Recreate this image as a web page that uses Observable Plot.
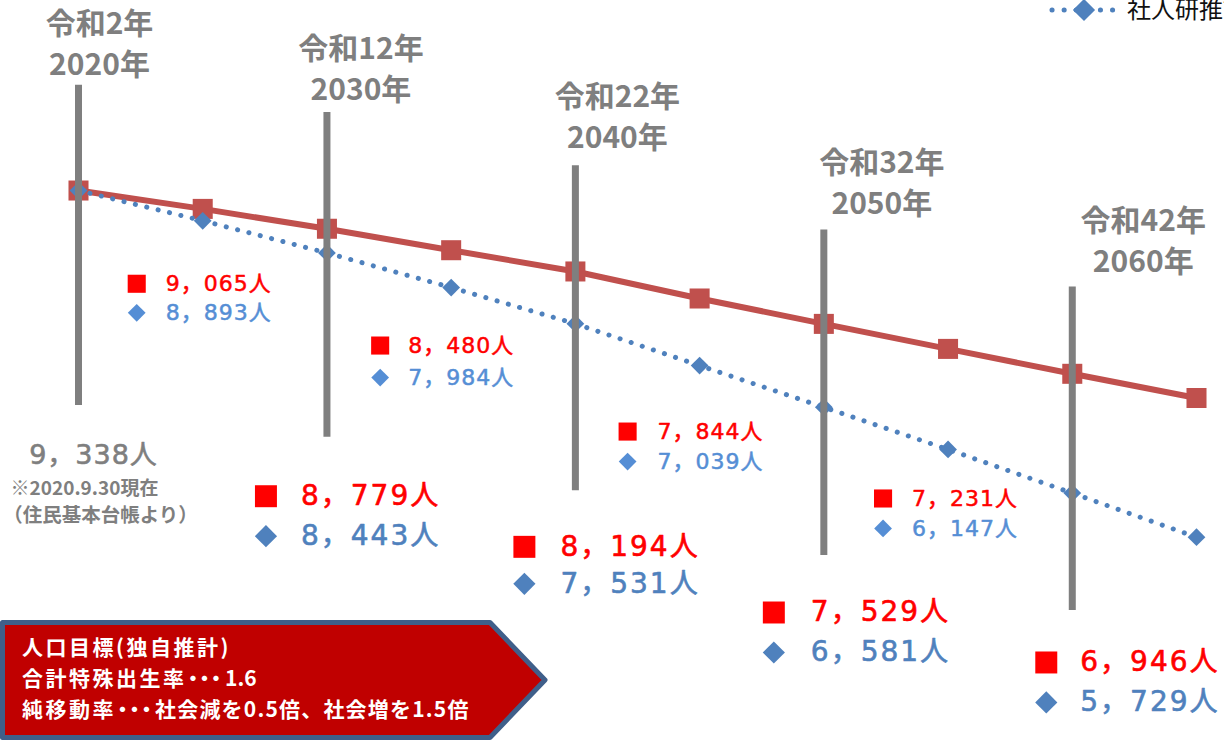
<!DOCTYPE html>
<html lang="ja">
<head>
<meta charset="utf-8">
<script src="https://cdn.jsdelivr.net/npm/d3@7"></script>
<script src="https://cdn.jsdelivr.net/npm/@observablehq/plot@0.6"></script>
<style>
  html, body { margin: 0; padding: 0; background: #fff; }
  #wrap { position: relative; width: 1224px; height: 740px; overflow: hidden; font-family: "Noto Sans CJK JP", "Noto Sans", sans-serif; }
  #wrap svg.overlay { position: absolute; left: 0; top: 0; }
</style>
</head>
<body>
<div id="wrap"></div>
<script>
// ---- data ----
const years = [2020, 2025, 2030, 2035, 2040, 2045, 2050, 2055, 2060, 2065];
const target = [9338, 9065, 8779, 8480, 8194, 7844, 7529, 7231, 6946, 6680]; // 人口目標（独自推計）
const ipss   = [9338, 8893, 8443, 7984, 7531, 7039, 6581, 6147, 5729, 5335]; // 社人研推計
const eraYears  = [2020, 2030, 2040, 2050, 2060];
const eraLabels = ["令和2年", "令和12年", "令和22年", "令和32年", "令和42年"];
const eraYearLabels = ["2020年", "2030年", "2040年", "2050年", "2060年"];
const barTop    = [11070, 10590, 9720, 8760, 7990];
const barBottom = [6600, 6270, 5750, 5180, 4740];
const bigYears   = [2030, 2040, 2050, 2060];
const smallYears = [2025, 2035, 2045, 2055];
const legendLabel = "社人研推計";
const baseNote = ["※2020.9.30現在", "（住民基本台帳より）"];
const boxLines = ["人口目標(独自推計)", "合計特殊出生率・・・1.6", "純移動率・・・社会減を0.5倍、社会増を1.5倍"];

// ---- layout (pixel offsets for annotations) ----
const eraDx = [21, 34, 42, 58, 71];
const eraDy = [2, 0, -5, -4, -3];
const bigLayout = [
  {m: -61, t: -26, r: 59, b: 99},
  {m: -51, t: -15, r: 56, b: 93},
  {m: -50, t: -13, r: 57, b: 97},
  {m: -26, t: 8,  r: 52, b: 92}
];
const smallLayout = [
  {m: -66, t: -37, r: 63, b: 92},
  {m: -71, t: -43, r: 58, b: 90},
  {m: -72, t: -42, r: 66, b: 96},
  {m: -65, t: -36, r: 49, b: 79}
];

const RED_LINE = "#c0504d", BLUE_LINE = "#4f81bd", GRAY = "#7f7f7f";
const RED_TXT = "#ff0000", BLUE_BIG = "#4f81bd", BLUE_SMALL = "#558ed5";
const FONT = "Noto Sans CJK JP";
const NUMFONT = "'DejaVu Sans', 'Noto Sans CJK JP'";

const rows = years.map((y, i) => ({year: y, target: target[i], ipss: ipss[i]}));
const bars = eraYears.map((y, i) => ({year: y, top: barTop[i], bottom: barBottom[i], era: eraLabels[i], ylab: eraYearLabels[i]}));
const fmt = v => d3.format(",")(v).replace(",", "，") + "人";
const byYear = y => rows.find(r => r.year === y);

const marks = [
  Plot.line(rows, {x: "year", y: "target", stroke: RED_LINE, strokeWidth: 6}),
  Plot.dot(rows, {x: "year", y: "target", symbol: "square", r: 11.3, fill: RED_LINE}),
  Plot.line(rows, {x: "year", y: "ipss", stroke: BLUE_LINE, strokeWidth: 5, strokeDasharray: "0.1 11.6", strokeLinecap: "round"}),
  Plot.dot(rows, {x: "year", y: "ipss", symbol: "diamond2", r: 8, fill: BLUE_LINE}),
  Plot.ruleX(bars, {x: "year", y1: "bottom", y2: "top", stroke: GRAY, strokeWidth: 7})
];

// era labels
bars.forEach((b, i) => {
  marks.push(Plot.text([b], {x: "year", y: "top", text: "era", dx: eraDx[i], dy: -63 + eraDy[i], fill: GRAY, fontSize: 30, fontWeight: "bold", fontFamily: FONT}));
  marks.push(Plot.text([b], {x: "year", y: "top", text: "ylab", dx: eraDx[i], dy: -22 + eraDy[i], fill: GRAY, fontSize: 30, fontWeight: "bold", fontFamily: FONT}));
});

// base year label
const b0 = [bars[0]];
marks.push(Plot.text(b0, {x: "year", y: "bottom", text: () => fmt(target[0]), dx: 15, dy: 50, fill: GRAY, stroke: GRAY, strokeWidth: 0.6, fontSize: 27, fontFamily: NUMFONT, ariaDescription: "base"}));
marks.push(Plot.text(b0, {x: "year", y: "bottom", text: () => baseNote[0], dx: 6, dy: 83, fill: GRAY, fontSize: 19, fontWeight: "bold", fontFamily: FONT}));
marks.push(Plot.text(b0, {x: "year", y: "bottom", text: () => baseNote[1], dx: 22, dy: 110, fill: GRAY, fontSize: 19.5, fontWeight: "bold", fontFamily: FONT}));

// big labels (decade years) anchored at bar bottoms
bigYears.forEach((yr, i) => {
  const L = bigLayout[i];
  const d = [{...byYear(yr), bottom: bars.find(b => b.year === yr).bottom}];
  marks.push(Plot.dot(d, {x: "year", y: "bottom", dx: L.m, dy: L.r, symbol: "square", r: 12.4, fill: RED_TXT}));
  marks.push(Plot.dot(d, {x: "year", y: "bottom", dx: L.m, dy: L.b, symbol: "diamond2", r: 10, fill: BLUE_BIG}));
  marks.push(Plot.text(d, {x: "year", y: "bottom", text: r => fmt(r.target), dx: L.t, dy: L.r, textAnchor: "start", fill: RED_TXT, stroke: RED_TXT, strokeWidth: 0.6, fontSize: 28, fontFamily: NUMFONT, ariaDescription: "big"}));
  marks.push(Plot.text(d, {x: "year", y: "bottom", text: r => fmt(r.ipss), dx: L.t, dy: L.b, textAnchor: "start", fill: BLUE_BIG, stroke: BLUE_BIG, strokeWidth: 0.6, fontSize: 28, fontFamily: NUMFONT, ariaDescription: "big"}));
});

// small labels (mid years) anchored at the projection point
smallYears.forEach((yr, i) => {
  const L = smallLayout[i];
  const d = [byYear(yr)];
  marks.push(Plot.dot(d, {x: "year", y: "ipss", dx: L.m, dy: L.r, symbol: "square", r: 10.2, fill: RED_TXT}));
  marks.push(Plot.dot(d, {x: "year", y: "ipss", dx: L.m, dy: L.b, symbol: "diamond2", r: 8, fill: BLUE_SMALL}));
  marks.push(Plot.text(d, {x: "year", y: "ipss", text: r => fmt(r.target), dx: L.t, dy: L.r, textAnchor: "start", fill: RED_TXT, stroke: RED_TXT, strokeWidth: 0.5, fontSize: 22, fontFamily: NUMFONT, ariaDescription: "small"}));
  marks.push(Plot.text(d, {x: "year", y: "ipss", text: r => fmt(r.ipss), dx: L.t, dy: L.b, textAnchor: "start", fill: BLUE_SMALL, stroke: BLUE_SMALL, strokeWidth: 0.5, fontSize: 22, fontFamily: NUMFONT, ariaDescription: "small"}));
});

const chart = Plot.plot({
  width: 1224,
  height: 740,
  margin: 0,
  x: {domain: [2020, 2065], range: [78, 1196], axis: null},
  y: {type: "log", domain: [5000, 10000], range: [576.9, 147.6], axis: null},
  style: {fontFamily: FONT, background: "transparent", overflow: "visible"},
  marks
});
chart.querySelectorAll('g[aria-description="big"]').forEach(g => g.style.letterSpacing = "2px");
chart.querySelectorAll('g[aria-description="base"]').forEach(g => g.style.letterSpacing = "1px");
chart.querySelectorAll('g[aria-description="small"]').forEach(g => g.style.letterSpacing = "1px");
const wrap = document.getElementById("wrap");
wrap.appendChild(chart);

// ---- overlays: callout box and legend ----
const ov = d3.select(wrap).append("svg").attr("class", "overlay").attr("width", 1224).attr("height", 740);
ov.append("polygon")
  .attr("points", "2.5,622.5 490,622.5 545,680 490,737.5 2.5,737.5")
  .attr("fill", "#c00000").attr("stroke", "#3f5f8a").attr("stroke-width", 5).attr("stroke-linejoin", "round");
// per-line spacing: [before dots, dots, after dots]; extra shifts at dot start / after dots
const boxSpacing = [[2.5], [2.5, -9.5, 0], [2.5, -9, 1.2]];
const dotLead = [0, -4, -4];
const afterDots = [0, 8, 7];
boxLines.forEach((t, i) => {
  const parts = t.split("・・・");
  const segs = parts.length === 1 ? [t] : [parts[0], "・・・", parts[1]];
  const dx = [];
  let prevLs = 0;
  segs.forEach((s, k) => {
    const ls = boxSpacing[i][k];
    Array.from(s).forEach((ch, j) => {
      let v = dx.length === 0 ? 0 : prevLs;
      if (j === 0 && k === 1) v += dotLead[i];
      if (j === 0 && k === 2) v += afterDots[i];
      dx.push(v);
      prevLs = ls;
    });
  });
  ov.append("text").attr("x", 22).attr("y", 648 + i * 31).attr("dy", "0.35em")
    .attr("dx", dx.map(v => v.toFixed(1)).join(" "))
    .attr("fill", "#fff").attr("font-family", FONT).attr("font-weight", "bold").attr("font-size", 21).text(t);
});
const lg = ov.append("g");
lg.append("line").attr("x1", 1052).attr("x2", 1113).attr("y1", 10).attr("y2", 10)
  .attr("stroke", BLUE_LINE).attr("stroke-width", 5).attr("stroke-dasharray", "0.1 12").attr("stroke-linecap", "round");
lg.append("path").attr("d", d3.symbol(d3.symbolDiamond2, 2 * 12.5 * 12.5)()).attr("transform", "translate(1084,10)").attr("fill", BLUE_LINE);
lg.append("text").attr("x", 1127).attr("y", 10).attr("dy", "0.35em").attr("font-family", FONT).attr("font-size", 24).attr("fill", "#111").text(legendLabel);
</script>
</body>
</html>
